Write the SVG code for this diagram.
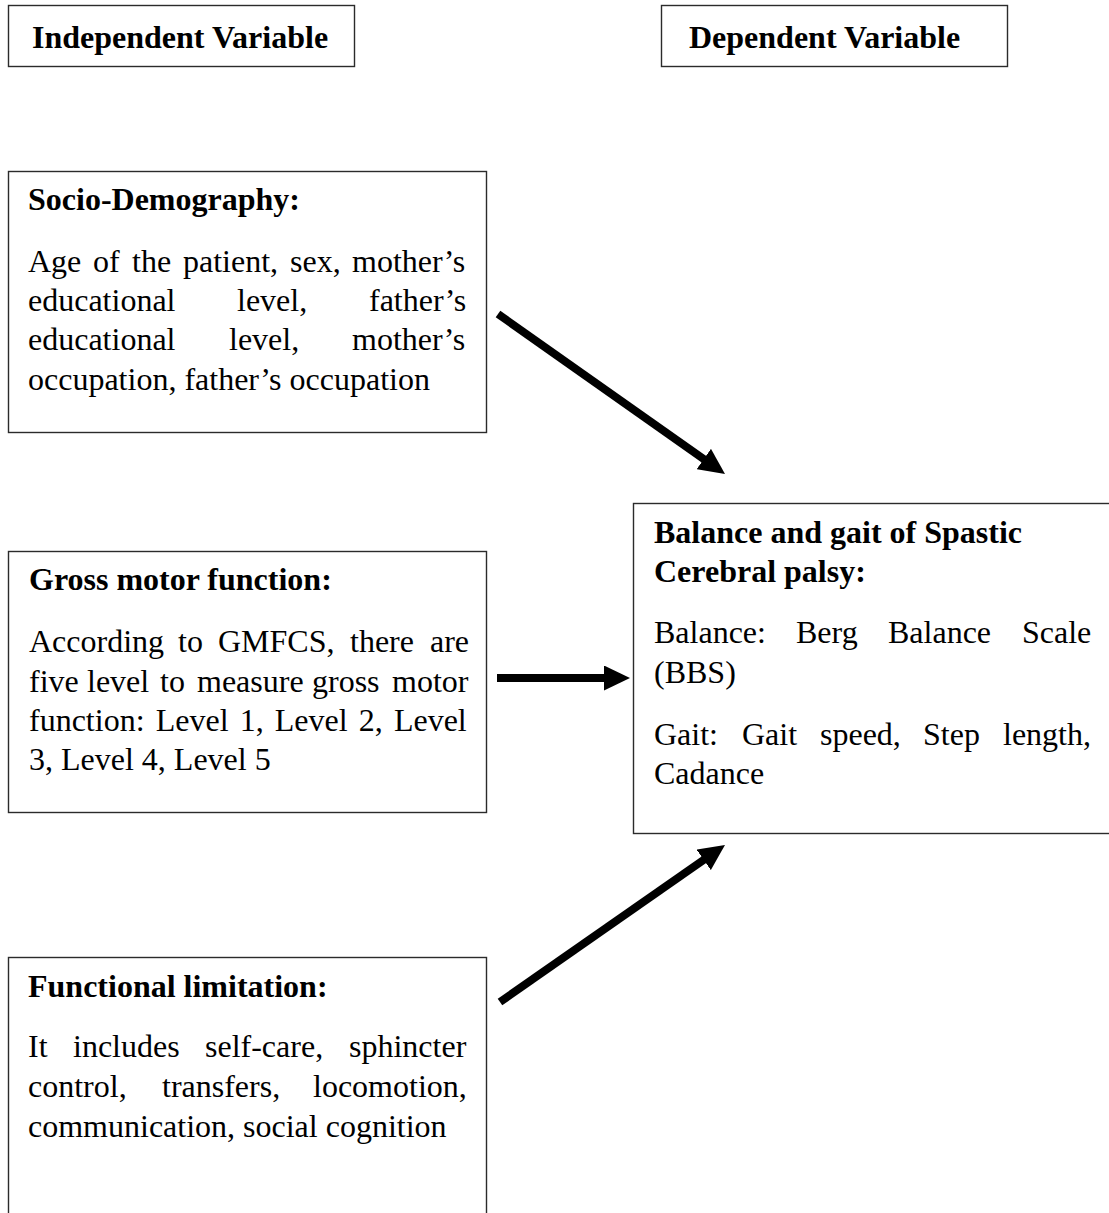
<svg xmlns="http://www.w3.org/2000/svg" width="1109" height="1213" viewBox="0 0 1109 1213">
<style>
.box{fill:#fff;stroke:#2b2b2b;stroke-width:1.4}
.t{font-family:"Liberation Serif","Times New Roman",serif;font-size:32px;fill:#000}
.b{font-weight:bold}
.arr{stroke:#000;stroke-width:8;fill:none}
</style>
<defs>
<marker id="ah" markerUnits="userSpaceOnUse" markerWidth="26" markerHeight="25" refX="2" refY="12.5" orient="auto" viewBox="0 0 26 25">
<path d="M0,0 L26,12.5 L0,25 z" fill="#000"/>
</marker>
</defs>
<rect width="1109" height="1213" fill="#fff"/>
<g id="iv">
<rect class="box" x="8.5" y="5.5" width="346" height="61"/>
<text class="t b" x="32" y="48">Independent Variable</text>
</g>
<g id="dv">
<rect class="box" x="661.5" y="5.5" width="346" height="61"/>
<text class="t b" x="689" y="48">Dependent Variable</text>
</g>
<g id="socio">
<rect class="box" x="8.5" y="171.5" width="478" height="261"/>
<text class="t b" x="28" y="210">Socio-Demography:</text>
<text class="t" y="272"><tspan x="28">Age</tspan><tspan x="93">of</tspan><tspan x="132">the</tspan><tspan x="183">patient,</tspan><tspan x="290">sex,</tspan><tspan x="352">mother’s</tspan></text>
<text class="t" y="311"><tspan x="28">educational</tspan><tspan x="237">level,</tspan><tspan x="369">father’s</tspan></text>
<text class="t" y="350"><tspan x="28">educational</tspan><tspan x="229">level,</tspan><tspan x="352">mother’s</tspan></text>
<text class="t" x="28" y="390">occupation, father’s occupation</text>
</g>
<g id="gross">
<rect class="box" x="8.5" y="551.5" width="478" height="261"/>
<text class="t b" x="29" y="590">Gross motor function:</text>
<text class="t" y="652"><tspan x="29">According</tspan><tspan x="178">to</tspan><tspan x="218">GMFCS,</tspan><tspan x="350">there</tspan><tspan x="430">are</tspan></text>
<text class="t" y="692"><tspan x="29">five</tspan><tspan x="87">level</tspan><tspan x="160">to</tspan><tspan x="197">measure</tspan><tspan x="312">gross</tspan><tspan x="392">motor</tspan></text>
<text class="t" y="731"><tspan x="29">function:</tspan><tspan x="155.7">Level</tspan><tspan x="239.7">1,</tspan><tspan x="274.8">Level</tspan><tspan x="358.8">2,</tspan><tspan x="393.9">Level</tspan></text>
<text class="t" x="29" y="770">3, Level 4, Level 5</text>
</g>
<g id="functional">
<rect class="box" x="8.5" y="957.5" width="478" height="300"/>
<text class="t b" x="28" y="997">Functional limitation:</text>
<text class="t" y="1057"><tspan x="28">It</tspan><tspan x="73">includes</tspan><tspan x="205">self-care,</tspan><tspan x="349">sphincter</tspan></text>
<text class="t" y="1097"><tspan x="28">control,</tspan><tspan x="162">transfers,</tspan><tspan x="313">locomotion,</tspan></text>
<text class="t" x="28" y="1137">communication, social cognition</text>
</g>
<g id="outcome">
<rect class="box" x="633.5" y="503.5" width="500" height="330"/>
<text class="t b" x="654" y="543">Balance and gait of Spastic</text>
<text class="t b" x="654" y="582">Cerebral palsy:</text>
<text class="t" y="643"><tspan x="654">Balance:</tspan><tspan x="796">Berg</tspan><tspan x="888">Balance</tspan><tspan x="1022">Scale</tspan></text>
<text class="t" x="654" y="683">(BBS)</text>
<text class="t" y="745"><tspan x="654">Gait:</tspan><tspan x="742">Gait</tspan><tspan x="820">speed,</tspan><tspan x="923">Step</tspan><tspan x="1003">length,</tspan></text>
<text class="t" x="654" y="784">Cadance</text>
</g>
<g id="connectors">
<line class="arr" x1="498" y1="314" x2="705.4" y2="460.2" marker-end="url(#ah)"/>
<line class="arr" x1="497" y1="678" x2="606" y2="678" marker-end="url(#ah)"/>
<line class="arr" x1="500" y1="1002" x2="705.3" y2="858.7" marker-end="url(#ah)"/>
</g>
</svg>
